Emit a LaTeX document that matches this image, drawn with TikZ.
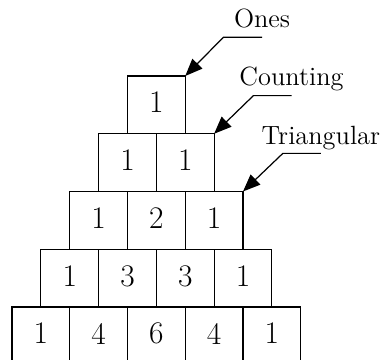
\documentclass[tikz,border=0pt]{standalone}
\usetikzlibrary{positioning, arrows.meta}
\begin{document}
\begin{tikzpicture}[
    every node/.style={font=\fontsize{13}{15}\selectfont},
    cell/.style={draw, line width=0.6pt, minimum size=1cm, inner sep=0pt, outer sep=0pt,
                 font=\fontsize{15.5}{18}\selectfont, text depth=0.8mm},
    tag/.style={anchor=base, inner sep=0pt},
    pointer/.style={-{Triangle[length=3mm, width=2.4mm]}, line width=0.6pt},
    node distance=0mm
]
\useasboundingbox (-0.208,0.082) rectangle (6.407,6.316);
% Row 1 -- apex
\node[cell] (r1c1) at (2.5,4.5) {1};
% Row 2
\node[cell] (r2c1) at (2,3.5) {1};
\node[cell, right=of r2c1] (r2c2) {1};
% Row 3
\node[cell] (r3c1) at (1.5,2.5) {1};
\node[cell, right=of r3c1] (r3c2) {2};
\node[cell, right=of r3c2] (r3c3) {1};
% Row 4
\node[cell] (r4c1) at (1,1.5) {1};
\node[cell, right=of r4c1] (r4c2) {3};
\node[cell, right=of r4c2] (r4c3) {3};
\node[cell, right=of r4c3] (r4c4) {1};
% Row 5 -- bottom
\node[cell] (r5c1) at (0.5,0.5) {1};
\node[cell, right=of r5c1] (r5c2) {4};
\node[cell, right=of r5c2] (r5c3) {6};
\node[cell, right=of r5c3] (r5c4) {4};
\node[cell, right=of r5c4] (r5c5) {1};
% Callouts
\coordinate (onesEnd)  at (4.33,5.67);
\coordinate (onesBend) at (3.66,5.67);
\coordinate (cntEnd)   at (4.84,4.66);
\coordinate (cntBend)  at (4.18,4.66);
\coordinate (triEnd)   at (5.35,3.66);
\coordinate (triBend)  at (4.69,3.66);
\node[tag] (ones) at ([yshift=1.7mm]onesEnd) {Ones};
\node[tag] (cnt)  at ([yshift=1.7mm]cntEnd)  {Counting};
\node[tag] (tri)  at ([yshift=1.6mm]triEnd)  {Triangular};
\draw[pointer] (onesEnd) -- (onesBend) -- (r1c1.north east);
\draw[pointer] (cntEnd)  -- (cntBend)  -- (r2c2.north east);
\draw[pointer] (triEnd)  -- (triBend)  -- (r3c3.north east);
\end{tikzpicture}
\end{document}
